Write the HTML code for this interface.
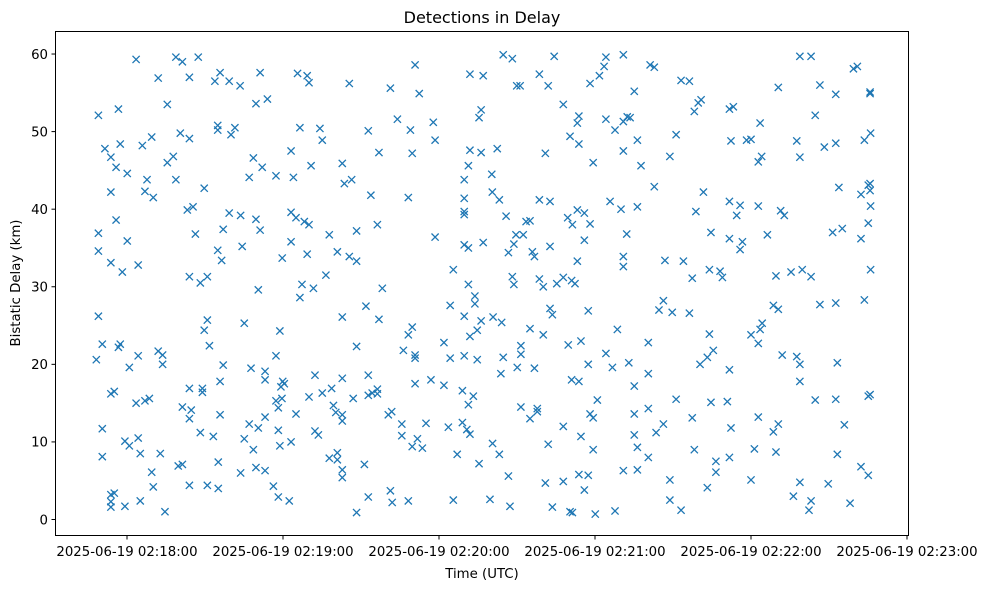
<!DOCTYPE html>
<html><head><meta charset="utf-8"><style>
html,body{margin:0;padding:0;background:#fff;}
svg{display:block;font-family:"DejaVu Sans","Liberation Sans",sans-serif;}
</style></head><body>
<svg id="chart" width="989" height="590" viewBox="0 0 989 590" xmlns="http://www.w3.org/2000/svg">
<rect x="0" y="0" width="989" height="590" fill="#fff"/>
<text x="482" y="23" font-size="16" text-anchor="middle" fill="#000">Detections in Delay</text>
<g id="marks"></g>
<rect x="55.5" y="31.5" width="853" height="504" fill="none" stroke="#000" stroke-width="1"/>
<g id="xaxis"></g>
<g id="yaxis"></g>
<text x="482" y="578" font-size="13.3" text-anchor="middle" fill="#000">Time (UTC)</text>
<text x="0" y="0" font-size="13.3" text-anchor="middle" fill="#000" transform="translate(20,283) rotate(-90)">Bistatic Delay (km)</text>
</svg>
<script>
// seconds after 02:18:00
const times = [3.5,18.8,21.3,27.4,12,24,33.8,35.8,15.5,-3.3,-11,34.9,34.9,20.5,24,9.5,5.9,-2.6,-8.5,-6.2,17.8,15.5,-4.2,0.1,7.7,18.8,29.7,-6.2,6.9,10.1,23.2,25.4,-4.2,-11,0.1,26.3,37,-11,34.9,36.4,-6.2,-1.8,4.3,24,28.2,30.9,-11,30.9,29.7,-9.5,-3.3,-2.6,-11.8,4.3,12,13.7,13.7,0.9,31.7,37,-6.2,-4.9,3.5,6.9,8.6,24,29,29,35.8,21.3,24.7,24,35.8,-9.5,-0.8,0.9,4.3,28.2,33.2,-9.5,5.1,12.8,19.7,21.3,35.1,9.5,10.1,24,30.9,35.1,-6.2,-4.9,-6.2,-6.2,-0.8,5.1,14.6,
51.2,39.3,43.5,65.6,69.3,70,85.5,49.6,54,41.5,40,66.5,74.2,75.1,63.1,48.6,52,47,57.3,64,70.8,82.8,83.6,86.4,39.3,43.7,49.6,51.2,63.1,65,68.2,70,77.8,88.3,44.3,63.1,59.7,69.3,80.9,85.5,88.3,76.5,67.3,71.7,66.5,50.5,45.1,58.8,82.8,88.3,57.3,47.7,53.1,53.1,59.9,60.5,59.2,72.3,82.8,78.7,75.1,70,87,59.6,57.3,58.2,79.4,80.3,82.8,82.8,65,53.1,47,50.5,58.2,72.3,73.6,45.1,48.6,58.8,63.1,77.8,80.9,80.9,82.8,82.8,43.7,49.6,53.1,56.3,58.2,62.4,88.3,
110.8,131.9,137,101.3,112.4,136.2,135.4,104,117.8,92.8,109,118.5,96.9,109.7,131.9,136.2,131.3,129.7,140.3,93.8,108.2,129.7,140.5,129.7,129.7,96.3,118.5,129.7,131.3,137,125.5,131.3,98.2,133.8,133.8,124.3,91.9,96.9,129.7,136.2,134.7,131.9,140.8,109.7,108.2,121.9,106.3,110.8,110.8,124.3,129.7,134.7,92.8,110.8,116.9,121.9,129,133.2,131.3,92.8,94.3,96.3,96.3,100.5,101.8,105.7,105.7,115,123.6,129,130.7,131.9,111.7,109.7,113.6,127,140.6,91.3,135.4,101.3,102,92.8,108.2,125.5,139.6,
144.7,148.2,164.3,184.2,190.9,183.5,158.6,181.7,178.1,149.9,151.2,162,167.8,173.8,173.2,184.2,190.9,192.4,187.7,170.4,173.8,142.4,160.9,190.9,179.3,143.2,158.6,162.7,185.8,190,145.8,153.5,155,169.5,173.2,175.9,171.3,178.1,149.6,152.4,148.8,146.7,155.9,156.7,162.7,175.9,192.2,173.2,190.9,190.9,148.2,148.8,158.6,160.1,165.3,167.8,171,172.3,144.1,162.7,163.6,177.4,155,160.1,188.6,151.5,151.5,169.7,174.6,184.2,144.7,143.8,150.1,156.7,177.4,186.7,193,171,173.8,180.9,151.5,157.8,157.8,155,178.1,179.3,167.8,143.2,162,174.6,179.3,146.7,160.9,167.8,173.8,177.4,175.9,190.9,147.3,163.6,170.4,171.3,180.1,187.7,
201.2,202.8,213.1,216.3,195.1,219.7,220.8,218.2,231.7,233.2,193.5,243.5,196.3,211.2,232.3,238.3,240,208.8,197.7,242.8,244.1,202.8,221.7,196.3,218.8,231.7,235.8,234.5,242.8,224.6,231.7,236.7,235.8,206.9,214,217.4,224,228.1,229,206.3,204.6,209.7,216.3,224,240,243.5,244.3,242.8,200.5,225.5,223.2,220.4,200.5,231.7,195.1,211.2,224.6,230.9,200.5,195.1,217.4,242.8,206.3,203.5,232.3,195.1,196.3,200.5,218.2,226.5,231.7,241.3,226.5,196.3,208.8,223.2,240,208.8,213.1,
258.8,263.1,279.4,280.9,250.5,266.5,272.6,285.8,285.8,264.7,257.6,268.2,272.6,283.6,286,258.8,273.8,282.3,285.1,285.8,285.8,286,251.4,252.8,246.3,271.4,275.1,285.1,282.3,286,249.6,255.4,259.7,263.1,248.6,250.5,266.5,272.6,283.6,252,257.6,258.8,273.2,258.8,264.7,272.6,285.1,285.8,250.5,248.6,275.9,249.6,273.2,282.3,285.1,258.8,269.7,256.3,263.1,262.3,278.1];
// bistatic delay in km
const delays = [59.3,59.6,59.0,59.6,56.9,57.0,56.5,57.6,53.5,52.9,52.1,50.8,50.2,49.8,49.1,49.3,48.2,48.4,47.8,46.7,46.8,46.0,45.4,44.6,43.8,43.8,42.7,42.2,42.3,41.5,39.9,40.3,38.6,36.9,35.9,36.8,37.4,34.6,34.7,33.4,33.1,31.9,32.8,31.3,30.5,31.3,26.2,25.7,24.4,22.6,22.2,22.6,20.6,21.1,21.7,21.2,20.0,19.6,22.4,19.9,16.2,16.5,15.0,15.3,15.6,16.9,16.9,16.4,17.8,14.5,14.1,13.0,13.5,11.7,10.1,9.5,10.5,11.2,10.7,8.1,8.5,8.5,6.9,7.1,7.4,6.1,4.2,4.4,4.4,4.0,3.2,3.4,2.3,1.6,1.7,2.4,1.0,
57.6,56.5,55.9,57.5,57.2,56.3,56.2,53.6,54.2,50.5,49.6,50.5,50.4,48.9,47.5,46.6,45.4,44.1,44.3,44.1,45.6,45.9,43.3,43.8,39.5,39.2,38.7,37.3,39.6,38.9,38.4,38.0,36.7,37.2,35.2,35.8,33.7,34.2,34.5,33.9,33.3,31.5,30.3,29.8,28.6,29.6,25.3,24.3,26.1,22.3,21.1,19.5,19.1,18.0,17.8,17.5,17.1,18.6,18.2,16.9,16.3,15.8,15.6,15.6,15.3,14.4,14.7,13.8,13.5,12.7,13.6,13.2,12.3,11.8,11.5,11.4,10.9,10.4,9.0,9.5,10.0,7.9,8.6,7.7,6.4,5.4,6.0,6.7,6.3,4.3,2.9,2.4,0.9,
58.6,57.4,57.2,55.6,54.9,52.8,51.8,51.6,51.2,50.1,50.2,48.9,47.3,47.2,47.6,47.3,45.6,43.8,44.5,41.8,41.5,41.4,42.2,39.7,39.3,38.0,36.4,35.4,35.0,35.7,32.2,30.3,29.8,28.8,27.8,27.6,27.5,25.8,26.2,25.6,24.4,23.6,26.1,24.8,23.8,22.8,21.8,21.2,20.8,20.8,21.1,20.6,18.6,17.5,18.0,17.3,16.6,15.9,14.8,16.0,16.3,16.8,16.2,13.5,13.9,12.3,10.8,12.4,11.9,12.5,11.6,11.0,10.4,9.4,9.2,8.4,9.8,7.1,7.2,3.7,2.2,2.9,2.4,2.5,2.6,
59.9,59.4,59.7,59.6,59.9,58.4,57.4,57.2,56.2,55.9,55.9,55.9,53.5,52.0,51.1,51.6,51.3,51.9,50.2,49.4,48.4,47.8,47.2,47.5,46.0,41.2,41.2,41.0,41.0,40.0,39.1,38.4,38.5,38.9,39.9,39.5,38.0,38.1,36.7,36.7,35.5,34.4,34.5,33.9,35.2,36.0,36.8,33.3,33.9,32.6,31.3,30.3,31.0,30.0,30.4,31.2,30.8,30.4,25.4,27.2,26.4,26.9,24.6,23.8,24.5,22.4,21.3,22.5,23.0,21.4,20.9,18.8,19.6,19.5,20.0,19.6,20.2,18.0,17.8,15.4,14.5,14.3,13.9,13.0,13.6,13.1,12.0,8.4,9.7,10.7,9.0,5.6,4.7,4.9,5.8,5.7,3.8,6.3,1.7,1.6,1.0,0.9,0.7,1.1,
58.6,58.3,56.6,56.5,55.2,53.7,54.1,52.6,52.9,53.2,51.8,51.1,48.9,49.6,48.8,48.9,49.0,46.8,45.6,46.1,46.8,42.9,42.2,40.3,39.7,41.0,40.5,39.2,40.4,37.0,36.2,35.8,34.8,33.4,33.3,31.1,32.2,32.0,31.2,28.2,27.0,26.7,26.6,23.9,23.8,24.5,25.3,22.7,22.8,21.8,20.9,20.0,18.8,19.3,17.2,15.5,15.1,15.2,14.3,13.6,13.1,13.2,12.3,11.2,11.8,10.9,9.3,8.0,9.0,7.5,8.0,9.1,6.1,6.4,5.1,4.1,5.1,2.5,1.2,
59.7,59.7,58.1,58.4,55.7,56.0,54.8,55.1,54.9,52.1,48.8,48.0,48.5,48.9,49.8,46.7,42.8,41.9,43.1,43.3,42.4,40.4,39.8,39.2,36.7,37.0,37.5,38.2,36.2,32.2,31.4,31.9,32.2,31.3,27.6,27.1,27.7,27.9,28.3,21.2,21.0,20.0,20.2,17.8,15.4,15.5,15.9,16.1,12.3,11.3,12.2,8.7,8.4,6.8,5.7,4.8,4.6,3.0,2.4,1.2,2.1];
const yTicks = [0,10,20,30,40,50,60];
const xTickSeconds = [0,60,120,180,240,300];
const xTickLabels = ["2025-06-19 02:18:00","2025-06-19 02:19:00","2025-06-19 02:20:00","2025-06-19 02:21:00","2025-06-19 02:22:00","2025-06-19 02:23:00"];

const NS = "http://www.w3.org/2000/svg";
function xs(t){ return 127 + t * 2.6; }
function ys(d){ return 519.5 - d * 7.758; }
function mk(tag, attrs){ const e = document.createElementNS(NS, tag); for (const k in attrs) e.setAttribute(k, attrs[k]); return e; }

const marks = document.getElementById('marks');
const n = Math.min(times.length, delays.length);
for (let i = 0; i < n; i++) {
  const cx = xs(times[i]), cy = ys(delays[i]), h = 3.6;
  const p = mk('path', {d: `M${cx-h},${cy-h}L${cx+h},${cy+h}M${cx-h},${cy+h}L${cx+h},${cy-h}`, stroke: '#1f77b4', 'stroke-width': 1.3, fill: 'none'});
  
  
  marks.appendChild(p);
}
const xa = document.getElementById('xaxis');
xTickSeconds.forEach((s, i) => {
  const x = xs(s);
  const l = mk('line', {x1: x, x2: x, y1: 536, y2: 539.5, stroke: '#000', 'stroke-width': 1});
  
  
  xa.appendChild(l);
  const t = mk('text', {x: x, y: 556, 'font-size': 13.3, 'text-anchor': 'middle', fill: '#000'});
  
  
  t.textContent = xTickLabels[i];
  xa.appendChild(t);
});
const ya = document.getElementById('yaxis');
yTicks.forEach(v => {
  const y = ys(v);
  const l = mk('line', {x1: 51.5, x2: 55.5, y1: y, y2: y, stroke: '#000', 'stroke-width': 1});
  
  
  ya.appendChild(l);
  const t = mk('text', {x: 48, y: y + 4.8, 'font-size': 13.3, 'text-anchor': 'end', fill: '#000'});
  
  
  t.textContent = v;
  ya.appendChild(t);
});
</script>
</body></html>
